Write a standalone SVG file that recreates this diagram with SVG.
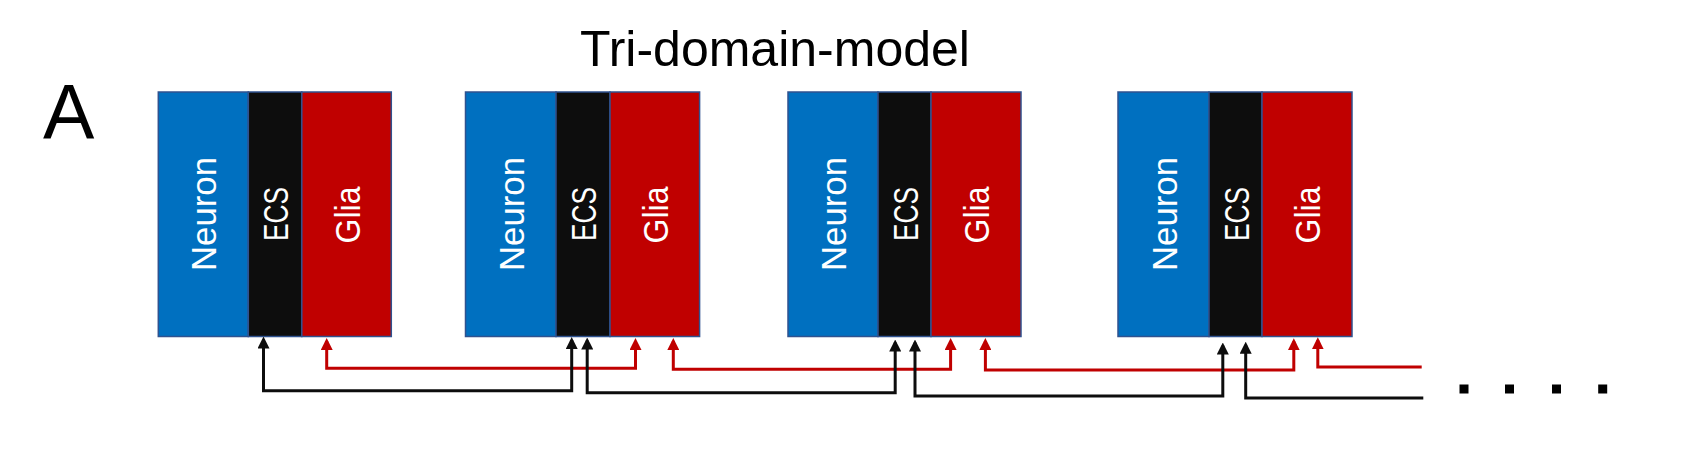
<svg xmlns="http://www.w3.org/2000/svg" width="1691" height="460" viewBox="0 0 1691 460">
<style>
  .neu { fill: #0070C0; stroke: #2F528F; stroke-width: 1.5; }
  .ecs { fill: #0D0D0D; stroke: #2F528F; stroke-width: 1.5; }
  .gli { fill: #C00000; stroke: #2F528F; stroke-width: 1.5; }
  .lbl { font-family: "Liberation Sans", Arial, sans-serif; font-size: 35px; fill: #FFFFFF; text-anchor: middle; }
  .title { font-family: "Liberation Sans", Arial, sans-serif; fill: #000000; }
  .blk { fill: none; stroke: #0D0D0D; stroke-width: 3; marker-start: url(#ahK); marker-end: url(#ahK); }
  .red { fill: none; stroke: #C00000; stroke-width: 3; marker-start: url(#ahR); marker-end: url(#ahR); }
  .open { marker-end: none; }
</style>
<defs>
  <marker id="ahK" viewBox="0 0 12 12" refX="9" refY="6" markerWidth="12" markerHeight="12" markerUnits="userSpaceOnUse" orient="auto-start-reverse">
    <path d="M0,0 L12,6 L0,12 Z" fill="#0D0D0D"/>
  </marker>
  <marker id="ahR" viewBox="0 0 12 12" refX="9" refY="6" markerWidth="12" markerHeight="12" markerUnits="userSpaceOnUse" orient="auto-start-reverse">
    <path d="M0,0 L12,6 L0,12 Z" fill="#C00000"/>
  </marker>
</defs>
<rect width="1691" height="460" fill="#FFFFFF"/>

<text class="title" x="580" y="66" font-size="50">Tri-domain-model</text>
<text class="title" x="43" y="139" font-size="77">A</text>

<g id="block1">
  <rect class="neu" x="158.3" y="92" width="90" height="244.5"/>
  <rect class="ecs" x="248.3" y="92" width="53.5" height="244.5"/>
  <rect class="gli" x="301.8" y="92" width="89.5" height="244.5"/>
  <text class="lbl" transform="translate(216.3,214) rotate(-90)" textLength="114" lengthAdjust="spacingAndGlyphs">Neuron</text>
  <text class="lbl" transform="translate(288,214) rotate(-90)" textLength="54" lengthAdjust="spacingAndGlyphs">ECS</text>
  <text class="lbl" transform="translate(359.5,215) rotate(-90)" textLength="57" lengthAdjust="spacingAndGlyphs">Glia</text>
</g>

<g id="block2">
  <rect class="neu" x="465.5" y="92" width="90.5" height="244.5"/>
  <rect class="ecs" x="556" y="92" width="54" height="244.5"/>
  <rect class="gli" x="610" y="92" width="89.6" height="244.5"/>
  <text class="lbl" transform="translate(523.8,214) rotate(-90)" textLength="114" lengthAdjust="spacingAndGlyphs">Neuron</text>
  <text class="lbl" transform="translate(596,214) rotate(-90)" textLength="54" lengthAdjust="spacingAndGlyphs">ECS</text>
  <text class="lbl" transform="translate(667.8,215) rotate(-90)" textLength="57" lengthAdjust="spacingAndGlyphs">Glia</text>
</g>

<g id="block3">
  <rect class="neu" x="788" y="92" width="90" height="244.5"/>
  <rect class="ecs" x="878" y="92" width="53" height="244.5"/>
  <rect class="gli" x="931" y="92" width="90" height="244.5"/>
  <text class="lbl" transform="translate(846,214) rotate(-90)" textLength="114" lengthAdjust="spacingAndGlyphs">Neuron</text>
  <text class="lbl" transform="translate(917.5,214) rotate(-90)" textLength="54" lengthAdjust="spacingAndGlyphs">ECS</text>
  <text class="lbl" transform="translate(989,215) rotate(-90)" textLength="57" lengthAdjust="spacingAndGlyphs">Glia</text>
</g>

<g id="block4">
  <rect class="neu" x="1118" y="92" width="91" height="244.5"/>
  <rect class="ecs" x="1209" y="92" width="53" height="244.5"/>
  <rect class="gli" x="1262" y="92" width="90" height="244.5"/>
  <text class="lbl" transform="translate(1176.5,214) rotate(-90)" textLength="114" lengthAdjust="spacingAndGlyphs">Neuron</text>
  <text class="lbl" transform="translate(1248.5,214) rotate(-90)" textLength="54" lengthAdjust="spacingAndGlyphs">ECS</text>
  <text class="lbl" transform="translate(1320,215) rotate(-90)" textLength="57" lengthAdjust="spacingAndGlyphs">Glia</text>
</g>

<g id="connectors">
  <path class="red" d="M326.7,341 V368.2 H635.5 V341"/>
  <path class="red" d="M673.3,341 V369.3 H950.6 V341"/>
  <path class="red" d="M985.4,341 V370 H1293.8 V341.3"/>
  <path class="red open" d="M1317.8,340.3 V367 H1421.7"/>
  <path class="blk" d="M263.5,339.5 V390.7 H571.7 V340"/>
  <path class="blk" d="M587.2,340.5 V392.7 H895.2 V342.5"/>
  <path class="blk" d="M915,342.5 V396 H1222.8 V345.5"/>
  <path class="blk open" d="M1245.7,344.7 V398 H1423.3"/>
</g>

<g id="ellipsis" fill="#000000">
  <rect x="1459.5" y="384.5" width="9" height="9"/>
  <rect x="1505" y="384.5" width="9" height="9"/>
  <rect x="1552" y="384.5" width="9" height="9"/>
  <rect x="1598.2" y="384.5" width="9" height="9"/>
</g>
</svg>
